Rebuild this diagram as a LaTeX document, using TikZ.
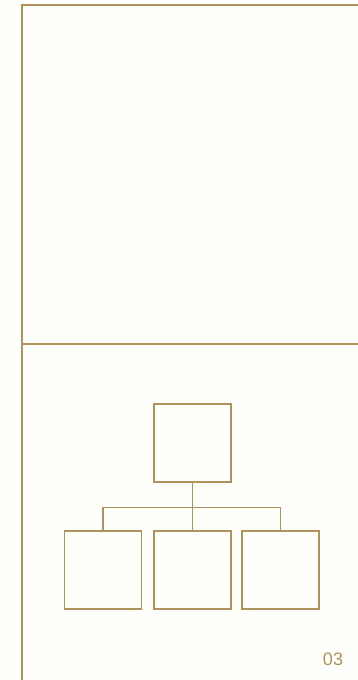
\documentclass[tikz,border=0pt]{standalone}
\usepackage{fontspec}
\setmainfont{Liberation Sans}
\usetikzlibrary{positioning,calc}
\definecolor{gold}{RGB}{178,146,92}
\definecolor{paper}{RGB}{254,254,250}

\begin{document}
\begin{tikzpicture}[x=1pt,y=-1pt,
  orgbox/.style={draw=gold,line width=1.6pt,minimum width=77pt,minimum height=78pt,inner sep=0pt}]
  \fill[paper] (0,0) rectangle (358,680);
  \useasboundingbox (0,0) rectangle (358,680);
  % frame
  \draw[gold,line width=2.2pt] (22,680) -- (22,5) -- (358,5);
  \draw[gold,line width=2.2pt] (22,344) -- (358,344);
  % org chart
  \node[orgbox] (top) at (192.4,443.2) {};
  \node[orgbox] (left) at (103,569.7) {};
  \node[orgbox] (mid) at (192.4,569.7) {};
  \node[orgbox] (right) at (280.2,569.7) {};
  \coordinate (bar) at (192.4,507.3);
  \draw[gold,line width=1.1pt] (top.south) -- (mid.north);
  \draw[gold,line width=1.1pt] (left.north) |- (bar) -| (right.north);
  % page number
  \node[gold,font=\fontsize{18}{18}\selectfont,inner sep=0pt] (page) at (333,659) {03};
\end{tikzpicture}
\end{document}
